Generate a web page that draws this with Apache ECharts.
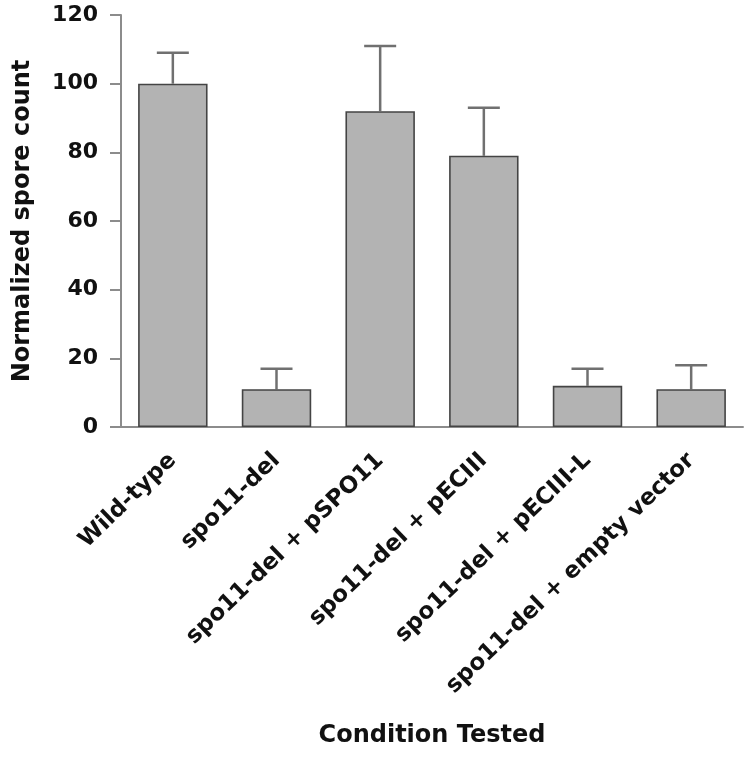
<!DOCTYPE html>
<html>
<head>
<meta charset="utf-8">
<script src="https://cdn.jsdelivr.net/npm/echarts@6/dist/echarts.min.js"></script>
<style>
html,body{margin:0;padding:0;background:#fff;}
#chart{width:746px;height:760px;}
</style>
</head>
<body>
<div id="chart"></div>
<script>
var categories = ['Wild-type', 'spo11-del', 'spo11-del + pSPO11', 'spo11-del + pECIII', 'spo11-del + pECIII-L', 'spo11-del + empty vector'];
var means = [100, 11, 92, 79, 12, 11];
var upperErr = [109, 17, 111, 93, 17, 18];
var yTicks = [0, 20, 40, 60, 80, 100, 120];

var FONT = '"DejaVu Sans", "Liberation Sans", Arial, sans-serif';
var errData = categories.map(function (c, i) { return [i, means[i], upperErr[i]]; });

var chart = echarts.init(document.getElementById('chart'), null, {renderer: 'canvas'});
chart.setOption({
  backgroundColor: '#ffffff',
  animation: false,
  grid: {left: 121, right: 3, top: 15, bottom: 333, containLabel: false, outerBoundsMode: 'none'},
  xAxis: {
    type: 'category',
    data: categories,
    name: 'Condition Tested',
    nameLocation: 'middle',
    nameGap: 297,
    nameTextStyle: {fontFamily: FONT, fontWeight: 'bold', fontSize: 24, color: '#111'},
    axisLine: {lineStyle: {color: '#8c8c8c', width: 2}},
    axisTick: {alignWithLabel: true, length: 12, lineStyle: {color: '#8c8c8c', width: 2}},
    axisLabel: {rotate: 44, margin: 30, fontFamily: FONT, fontWeight: 'bold', fontSize: 23, color: '#111', interval: 0}
  },
  yAxis: {
    type: 'value',
    min: yTicks[0],
    max: yTicks[yTicks.length - 1],
    interval: yTicks[1] - yTicks[0],
    name: 'Normalized spore count',
    nameLocation: 'middle',
    nameGap: 86,
    nameTextStyle: {fontFamily: FONT, fontWeight: 'bold', fontSize: 24, color: '#111'},
    axisLine: {show: true, lineStyle: {color: '#8c8c8c', width: 2}},
    axisTick: {show: true, length: 11, lineStyle: {color: '#8c8c8c', width: 2}},
    axisLabel: {margin: 23, fontFamily: FONT, fontWeight: 'bold', fontSize: 22, color: '#111'},
    splitLine: {show: false}
  },
  series: [
    {
      type: 'bar',
      data: means,
      barWidth: '67%',
      itemStyle: {color: '#b3b3b3', borderColor: '#444444', borderWidth: 1.6},
      z: 2
    },
    {
      type: 'custom',
      data: errData,
      z: 1,
      renderItem: function (params, api) {
        var x = api.value(0);
        var top = api.coord([x, api.value(2)]);
        var base = api.coord([x, api.value(1)]);
        var half = 16;
        var st = {stroke: '#707070', lineWidth: 2.5};
        return {
          type: 'group',
          children: [
            {type: 'line', shape: {x1: top[0], y1: top[1], x2: base[0], y2: base[1]}, style: st},
            {type: 'line', shape: {x1: top[0] - half, y1: top[1], x2: top[0] + half, y2: top[1]}, style: st}
          ]
        };
      }
    }
  ]
});
</script>
</body>
</html>
